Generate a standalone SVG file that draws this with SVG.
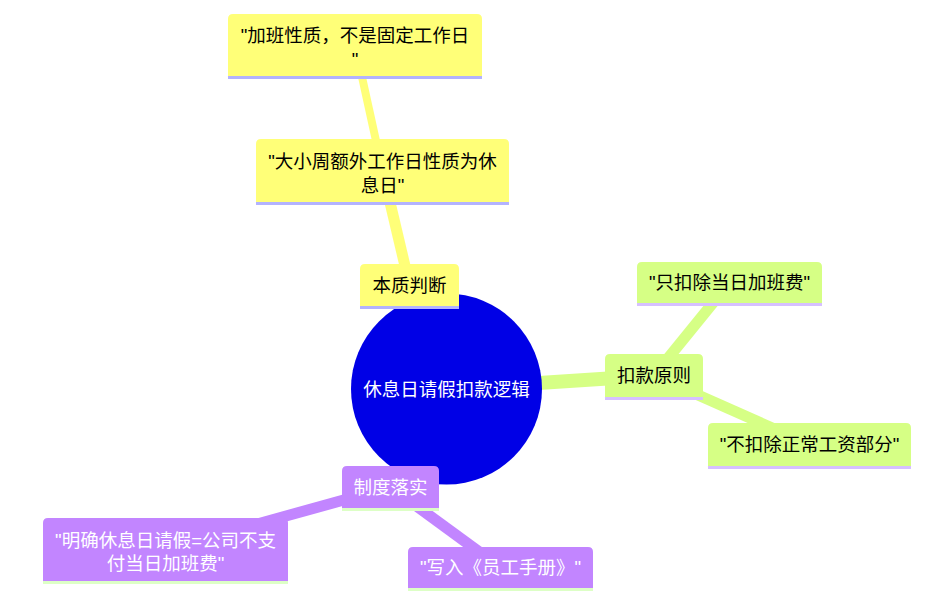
<svg xmlns="http://www.w3.org/2000/svg" width="951" height="606" viewBox="0 0 951 606">
<style>
text{font-family:"Liberation Sans","Noto Sans CJK SC",sans-serif;font-size:18.5px;text-anchor:middle}
.e{fill:none;stroke-linecap:butt}
.ey{stroke:#ffff78}.eg{stroke:#d6ff85}.ep{stroke:#c285ff}
.fy{fill:#ffff78}.fg{fill:#d6ff85}.fp{fill:#c285ff}
.ly{stroke:#b3b3ff;stroke-width:3}.lg{stroke:#d6c0ff;stroke-width:3}.lp{stroke:#ddffc6;stroke-width:3}
.tb{fill:#000}.tw{fill:#fff}
</style>
<rect width="951" height="606" fill="#fff"/>
<g id="connectors">
<line class="e ey" x1="446" y1="389" x2="409.5" y2="285" stroke-width="14"/>
<line class="e ey" x1="409.5" y1="285" x2="382.5" y2="170.5" stroke-width="11"/>
<line class="e ey" x1="382.5" y1="170.5" x2="355" y2="45" stroke-width="8"/>
<line class="e eg" x1="446" y1="389" x2="654" y2="375.5" stroke-width="14"/>
<line class="e eg" x1="654" y1="375.5" x2="729.5" y2="282.5" stroke-width="11"/>
<line class="e eg" x1="654" y1="375.5" x2="809.5" y2="444.5" stroke-width="11"/>
<line class="e ep" x1="446" y1="389" x2="390.5" y2="487" stroke-width="14"/>
<line class="e ep" x1="390.5" y1="487" x2="165.5" y2="549.5" stroke-width="11"/>
<line class="e ep" x1="390.5" y1="487" x2="500.5" y2="567.5" stroke-width="11"/>
</g>
<g id="root">
<circle cx="446.5" cy="389" r="95.5" fill="#0000e6"/>
<text class="tw" x="446.5" y="396">休息日请假扣款逻辑</text>
</g>
<g id="n-benzhi">
<path class="fy" d="M360,306V269Q360,264 365,264H454Q459,264 459,269V306Z"/>
<line class="ly" x1="360" y1="307.5" x2="459" y2="307.5"/>
<text class="tb" x="409.5" y="292">本质判断</text>
</g>
<g id="n-daxiaozhou">
<path class="fy" d="M256,202V144Q256,139 261,139H504Q509,139 509,144V202Z"/>
<line class="ly" x1="256" y1="203.5" x2="509" y2="203.5"/>
<text class="tb" x="382.5" y="168">"大小周额外工作日性质为休</text>
<text class="tb" x="382.5" y="192">息日"</text>
</g>
<g id="n-jiaban">
<path class="fy" d="M228,76V19Q228,14 233,14H477Q482,14 482,19V76Z"/>
<line class="ly" x1="228" y1="77.5" x2="482" y2="77.5"/>
<text class="tb" x="355" y="42">"加班性质，不是固定工作日</text>
<text class="tb" x="355" y="66">"</text>
</g>
<g id="n-koukuan">
<path class="fg" d="M605,397V359Q605,354 610,354H698Q703,354 703,359V397Z"/>
<line class="lg" x1="605" y1="398.5" x2="703" y2="398.5"/>
<text class="tb" x="654" y="382">扣款原则</text>
</g>
<g id="n-zhikou">
<path class="fg" d="M637,303V267Q637,262 642,262H817Q822,262 822,267V303Z"/>
<line class="lg" x1="637" y1="304.5" x2="822" y2="304.5"/>
<text class="tb" x="729.5" y="289">"只扣除当日加班费"</text>
</g>
<g id="n-bukou">
<path class="fg" d="M708,466V428Q708,423 713,423H906Q911,423 911,428V466Z"/>
<line class="lg" x1="708" y1="467.5" x2="911" y2="467.5"/>
<text class="tb" x="809.5" y="451">"不扣除正常工资部分"</text>
</g>
<g id="n-zhidu">
<path class="fp" d="M342,508V471Q342,466 347,466H434Q439,466 439,471V508Z"/>
<line class="lp" x1="342" y1="509.5" x2="439" y2="509.5"/>
<text class="tw" x="390.5" y="494">制度落实</text>
</g>
<g id="n-mingque">
<path class="fp" d="M43,581V523Q43,518 48,518H283Q288,518 288,523V581Z"/>
<line class="lp" x1="43" y1="582.5" x2="288" y2="582.5"/>
<text class="tw" x="165.5" y="547">"明确休息日请假=公司不支</text>
<text class="tw" x="165.5" y="570">付当日加班费"</text>
</g>
<g id="n-xieru">
<path class="fp" d="M408,588V552Q408,547 413,547H588Q593,547 593,552V588Z"/>
<line class="lp" x1="408" y1="589.5" x2="593" y2="589.5"/>
<text class="tw" x="500.5" y="574">"写入《员工手册》"</text>
</g>
</svg>
